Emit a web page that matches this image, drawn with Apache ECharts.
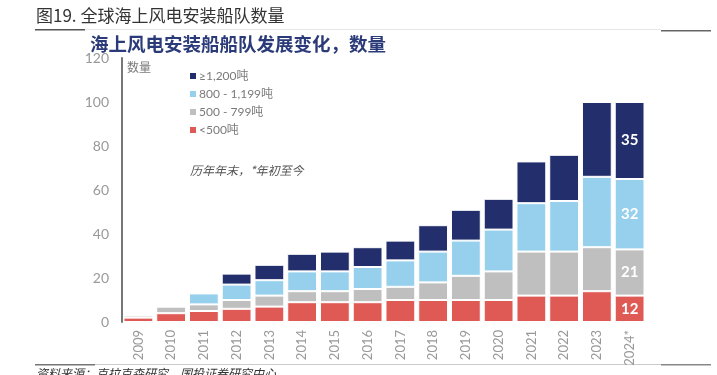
<!DOCTYPE html>
<html>
<head>
<meta charset="utf-8">
<script src="https://cdn.jsdelivr.net/npm/echarts@6/dist/echarts.min.js"></script>
<style>
  html, body { margin: 0; padding: 0; background: #fff; }
  #main { width: 717px; height: 375px; }
</style>
</head>
<body>
<div id="main"></div>
<script>
// 年份
var years = ['2009', '2010', '2011', '2012', '2013', '2014', '2015', '2016',
  '2017', '2018', '2019', '2020', '2021', '2022', '2023', '2024*'];
// 各吨位船数（自下而上）
var below500 = [2, 4, 5, 6, 7, 9, 9, 9, 10, 10, 10, 10, 12, 12, 14, 12];
var t500to799 = [1, 3, 3, 4, 5, 5, 5, 6, 6, 8, 11, 13, 20, 20, 20, 21];
var t800to1199 = [0, 0, 5, 7, 7, 9, 9, 10, 12, 14, 16, 19, 22, 23, 32, 32];
var above1200 = [0, 0, 0, 5, 7, 8, 9, 9, 9, 12, 14, 14, 19, 21, 34, 35];
var yTicks = [0, 20, 40, 60, 80, 100, 120];

var myChart = echarts.init(document.getElementById('main'));

// 只在最后一根柱子上标数字
function withLastLabel(arr) {
  return arr.map(function (v, i) {
    if (i === arr.length - 1) {
      return { value: v, label: { show: true } };
    }
    return v;
  });
}

function makeSeries(name, color, data) {
  return {
    name: name,
    type: 'bar',
    stack: 'total',
    barCategoryGap: '9%',
    itemStyle: { color: color, borderColor: '#fff', borderWidth: 1 },
    label: {
      show: false,
      position: 'inside',
      color: '#fff',
      fontWeight: 'bold',
      fontSize: 15,
      fontFamily: 'Lato'
    },
    data: withLastLabel(data)
  };
}

var option = {
  animation: false,
  textStyle: { fontFamily: 'Lato, "Noto Sans CJK SC"' },
  grid: { left: 122, right: 71, top: 58, bottom: 53 },
  legend: {
    orient: 'vertical',
    left: 183,
    top: 65,
    itemWidth: 8,
    itemHeight: 8,
    itemGap: 6,
    icon: 'rect',
    textStyle: { color: '#7a7a7a', fontSize: 12, fontFamily: 'Lato, "Noto Sans CJK SC"', padding: [0, 0, 0, -3] },
    data: ['≥1,200吨', '800 - 1,199吨', '500 - 799吨', '<500吨']
  },
  xAxis: {
    type: 'category',
    data: years,
    axisLine: { show: false },
    axisTick: { show: false },
    axisLabel: { rotate: 90, color: '#999', fontSize: 13, margin: 8 }
  },
  yAxis: {
    type: 'value',
    min: yTicks[0],
    max: yTicks[yTicks.length - 1],
    interval: 20,
    name: '数量',
    nameLocation: 'end',
    nameGap: -16,
    nameTextStyle: { color: '#7a7a7a', fontSize: 12, align: 'left', padding: [0, 0, 0, 5] },
    axisLine: { show: true, lineStyle: { color: '#777', width: 2 } },
    axisTick: { show: false },
    splitLine: { show: false },
    axisLabel: { color: '#999', fontSize: 14, margin: 13 }
  },
  series: [
    makeSeries('<500吨', '#e05a55', below500),
    makeSeries('500 - 799吨', '#bfbfbf', t500to799),
    makeSeries('800 - 1,199吨', '#96d0ed', t800to1199),
    makeSeries('≥1,200吨', '#232f6c', above1200)
  ],
  graphic: [
    {
      type: 'text', left: 36, top: 7,
      style: { text: '图19. 全球海上风电安装船队数量', fill: '#333', fontSize: 17, fontFamily: '"Noto Sans CJK SC"' }
    },
    { type: 'rect', shape: { x: 35, y: 29, width: 50, height: 1.5 }, style: { fill: '#555' } },
    { type: 'rect', shape: { x: 85, y: 29, width: 576, height: 1 }, style: { fill: '#e6e6e6' } },
    { type: 'rect', shape: { x: 661, y: 30, width: 50, height: 1.5 }, style: { fill: '#666' } },
    {
      type: 'text', left: 90, top: 35,
      style: { text: '海上风电安装船船队发展变化，数量', fill: '#2b3a78', fontSize: 18.5, fontWeight: 'bold', fontFamily: '"Noto Sans CJK SC"' }
    },
    {
      type: 'text', left: 190, top: 164,
      style: { text: '历年年末，*年初至今', fill: '#555', fontSize: 12, fontStyle: 'italic', fontFamily: '"Noto Sans CJK SC"' }
    },
    { type: 'rect', shape: { x: 35, y: 364, width: 60, height: 1.5 }, style: { fill: '#777' } },
    { type: 'rect', shape: { x: 95, y: 364, width: 566, height: 1 }, style: { fill: '#cccccc' } },
    { type: 'rect', shape: { x: 661, y: 364, width: 50, height: 1.5 }, style: { fill: '#888' } },
    {
      type: 'text', left: 36, top: 367,
      style: { text: '资料来源：克拉克森研究，国投证券研究中心', fill: '#333', fontSize: 12, fontStyle: 'italic', fontFamily: '"Noto Sans CJK SC"' }
    }
  ]
};

myChart.setOption(option);
</script>
</body>
</html>
